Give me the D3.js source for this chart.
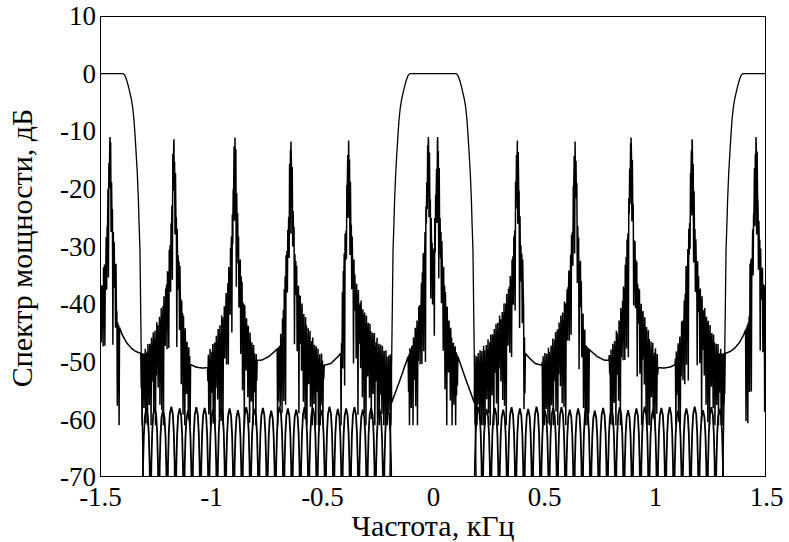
<!DOCTYPE html>
<html><head><meta charset="utf-8">
<script src="https://cdn.jsdelivr.net/npm/d3@7"></script>
<style>
body{margin:0;background:#fff}
svg text{font-family:"Liberation Serif","Times New Roman",serif;fill:#000}
</style>
</head><body>
<svg id="chart" width="789" height="542"></svg>
<script>
// ---------- data ----------
const xTicks = [-1.5, -1, -0.5, 0, 0.5, 1, 1.5];
const yTicks = [10, 0, -10, -20, -30, -40, -50, -60, -70];

// filter response (thin line): one passband shape, repeated at each centre
const passCenters = [-1.5, 0, 1.5];
const passOffset = [-0.30,-0.196,-0.192,-0.189,-0.186,-0.183,-0.180,-0.176,-0.173,-0.168,-0.162,-0.157,-0.153,-0.147,-0.141,-0.135,-0.128,-0.120,-0.112,-0.104,-0.06,0,0.06,0.104,0.112,0.120,0.128,0.135,0.141,0.147,0.153,0.157,0.162,0.168,0.173,0.176,0.180,0.183,0.186,0.189,0.192,0.196,0.30];
const passDb = [-90,-75,-64,-57,-49,-40,-30.6,-26,-22,-17.3,-13.3,-10.2,-8,-5.8,-4.4,-3.4,-2.2,-1.1,-0.3,0,0,0,0,0,-0.3,-1.1,-2.2,-3.4,-4.4,-5.8,-8,-10.2,-13.3,-17.3,-22,-26,-30.6,-40,-49,-57,-64,-75,-90];

// smooth floor of the spectrum between the tone clusters
const floorF = [-1.5,-1.47,-1.455,-1.44,-1.42,-1.40,-1.38,-1.36,-1.34,-1.32,-1.29,-1.25,-1.21,-1.17,-1.13,-1.10,-1.07,-1.04,-1.01,-0.98,-0.95,-0.92,-0.892,-0.86,-0.83,-0.80,-0.77,-0.74,-0.71,-0.68,-0.64,-0.60,-0.56,-0.52,-0.49,-0.46,-0.43,-0.405,-0.38,-0.35,-0.31,-0.27,-0.24,-0.21,-0.194,-0.17,-0.15,-0.13,-0.113,-0.08,-0.05,-0.021,0,
                0.021,0.05,0.08,0.113,0.13,0.15,0.17,0.194,0.21,0.24,0.27,0.31,0.35,0.38,0.405,0.43,0.46,0.49,0.52,0.56,0.60,0.64,0.68,0.71,0.74,0.77,0.80,0.83,0.86,0.892,0.92,0.95,0.98,1.01,1.04,1.07,1.10,1.13,1.17,1.21,1.25,1.29,1.32,1.34,1.36,1.38,1.40,1.42,1.44,1.455,1.47,1.5];
const floorDb = [-38,-35,-33,-38,-43.2,-45.3,-46.7,-47.6,-48.2,-48.5,-48.6,-48.3,-47.2,-45.5,-47.8,-50.3,-50.9,-51.1,-51.0,-50.4,-49.3,-47.8,-46.5,-48.3,-49.4,-49.8,-49.7,-49.1,-48.1,-46.8,-45.5,-47.2,-48.9,-50.0,-50.6,-50.3,-49.2,-48.0,-47.0,-48.8,-51.5,-54,-56,-57.4,-58,-55.4,-53.3,-51.1,-49.2,-46,-43,-40,-39,
                -40,-43,-46,-49.2,-51.1,-53.3,-55.4,-58,-57.4,-56,-54,-51.5,-48.8,-47.0,-48.0,-49.2,-50.3,-50.6,-50.0,-48.9,-47.2,-45.5,-46.8,-48.1,-49.1,-49.7,-49.8,-49.4,-48.3,-46.5,-47.8,-49.3,-50.4,-51.0,-51.1,-50.9,-50.3,-47.8,-45.5,-47.2,-48.3,-48.6,-48.5,-48.2,-47.6,-46.7,-45.3,-43.2,-38,-33,-35,-38];

// tone spikes: position, peak level, extent of the skirt to the left / right (kHz)
const spikeF     = [-1.455,-1.167,-0.892,-0.640,-0.380,-0.021,0.021,0.380,0.640,0.892,1.167,1.455];
const spikePeak  = [-11.0,-11.4,-11.1,-11.8,-11.6,-11.0,-11.0,-11.6,-11.8,-11.1,-11.4,-11.0];
const spikeLeft  = [0.158,0.149,0.122,0.063,0.036,0.090,0.036,0.194,0.149,0.099,0.077,0.045];
const spikeRight = [0.045,0.077,0.099,0.149,0.194,0.036,0.090,0.036,0.063,0.122,0.149,0.158];
// skirt profile of one spike (distance from spike in kHz, level relative to peak in dB)
const skirtD    = [0,0.0023,0.0045,0.0068,0.009,0.0113,0.0135,0.018,0.0225,0.027,0.036,0.045,0.0585,0.072,0.09,0.1126,0.135,0.158];
const skirtDrop = [0,-0.5,-1.8,-5,-9,-12.5,-14.5,-17.5,-20,-22,-25,-27,-29.2,-30.8,-32.8,-34.8,-36.3,-37.3];
// fine ripple inside the skirts (dB below the skirt envelope)
const rippleTop   = [0,1.5,0.5,2.5,0,1,3,0.5,1.5,0,2,1,0,2.5,0.5,1,0.2,1.8];
const rippleDepth = [6,10,4,13,7,16,5,11,4,19,8,6,14,5,22,9,7,12,4,16,8,18,6,25];
const rippleLowest = -61;   // ripple lines in the skirts do not reach below this level

// comb of side lobes at about -58 dB
const combNullsL = [-1.310,-1.2725,-1.235,-1.1975,-1.160,-1.1225,-1.085,-1.0475,-1.010,-0.9725,-0.935,-0.8975,-0.860,-0.8225,-0.785,-0.7475,-0.710,-0.6725,-0.635,-0.5975,-0.560,-0.5225,-0.485,-0.4475,-0.410,-0.3725,-0.335,-0.2975,-0.260,-0.2225,-0.185];
const combNullsR = [0.185,0.2225,0.260,0.2975,0.335,0.3725,0.410,0.4475,0.485,0.5225,0.560,0.5975,0.635,0.6725,0.710,0.7475,0.785,0.8225,0.860,0.8975,0.935,0.9725,1.010,1.0475,1.085,1.1225,1.160,1.1975,1.235,1.2725,1.310];
const combTopL = [-58.2,-57.9,-58.4,-57.8,-58.1,-58.5,-57.9,-58.0,-58.3,-57.8,-58.1,-58.4,-57.9,-58.2,-58.0,-58.5,-57.8,-58.1,-58.3,-57.9,-58.0,-58.4,-57.8,-58.2,-58.1,-57.9,-58.3,-58.0,-58.2,-57.9];
const combTopR = [-57.9,-58.2,-58.0,-58.3,-57.9,-58.1,-58.2,-57.8,-58.4,-58.0,-57.9,-58.3,-58.1,-57.8,-58.5,-58.0,-58.2,-57.9,-58.4,-58.1,-57.8,-58.3,-58.0,-57.9,-58.5,-58.1,-57.8,-58.4,-57.9,-58.2];
const lobeU   = [0,0.04,0.1,0.2,0.32,0.5,0.68,0.8,0.9,0.96,1];
const lobeRel = [-40,-18,-10,-4.5,-1.3,0,-1.3,-4.5,-10,-18,-40];

// ---------- drawing ----------
const L = 100, R = 766, T = 16, B = 477;
const svg = d3.select("#chart");
const x = d3.scaleLinear().domain([-1.5, 1.5]).range([L, R]);
const y = d3.scaleLinear().domain([-70, 10]).range([B, T]);

svg.append("defs").append("clipPath").attr("id", "clip")
  .append("rect").attr("x", L).attr("y", T).attr("width", R - L).attr("height", B - T);
const plot = svg.append("g").attr("clip-path", "url(#clip)");
const line = d3.line().x(d => x(d[0])).y(d => y(d[1]));

// comb
[[combNullsL, combTopL], [combNullsR, combTopR]].forEach(([nulls, tops]) => {
  const pts = [];
  for (let i = 0; i < tops.length; i++) {
    const a = nulls[i], b = nulls[i + 1];
    lobeU.forEach((u, j) => { if (i > 0 && j === 0) return; pts.push([a + (b - a) * u, tops[i] + lobeRel[j]]); });
  }
  plot.append("path").attr("d", line(pts)).attr("fill", "none").attr("stroke", "#000").attr("stroke-width", 1.8);
});

// spectrum with tone spikes
const floorScale = d3.scaleLinear().domain(floorF).range(floorDb);
const dropScale = d3.scaleLinear().domain(skirtD).range(skirtDrop).clamp(true);
const core = skirtD[9], dEnd = skirtD[skirtD.length - 1];
function upperAt(f) {
  let best = null;
  for (let i = 0; i < spikeF.length; i++) {
    const d = f - spikeF[i], ad = Math.abs(d);
    const ext = d < 0 ? spikeLeft[i] : spikeRight[i];
    if (ad > ext) continue;
    const de = ad <= core ? ad : core + (ad - core) * (dEnd - core) / (ext - core);
    const u = spikePeak[i] + dropScale(de);
    if (best === null || u > best) best = u;
  }
  return best;
}
const grid = d3.range(-1.5, 1.5 + 1e-9, 3 / 1500).map(f => ({ f, peak: null }));
spikeF.forEach((f, i) => grid.push({ f, peak: spikePeak[i] }));
grid.sort((a, b) => a.f - b.f);
const specPts = [];
let k = 0;
grid.forEach(g => {
  const fl = floorScale(g.f);
  if (g.peak !== null) { specPts.push([g.f, g.peak]); return; }
  const u = upperAt(g.f);
  if (u === null) { specPts.push([g.f, fl]); return; }
  const v = (k % 2 === 0) ? Math.max(u - rippleTop[(k / 2) % rippleTop.length], fl)
                          : Math.max(u - rippleDepth[((k - 1) / 2) % rippleDepth.length], rippleLowest);
  specPts.push([g.f, v]);
  k++;
});
plot.append("path").attr("d", line(specPts)).attr("fill", "none").attr("stroke", "#000")
  .attr("stroke-width", 1.5).attr("stroke-linejoin", "miter").attr("stroke-miterlimit", 2);

// filter
passCenters.forEach(c => {
  plot.append("path").attr("d", line(passOffset.map((o, i) => [c + o, passDb[i]])))
    .attr("fill", "none").attr("stroke", "#000").attr("stroke-width", 1.3);
});

// frame
svg.append("rect").attr("x", L + 0.5).attr("y", T + 0.5).attr("width", R - L - 1).attr("height", B - T - 1)
  .attr("fill", "none").attr("stroke", "#000").attr("stroke-width", 1);

// axes (labels only)
const fmt = d => String(d);
const ax = svg.append("g").attr("transform", `translate(0,${B})`)
  .call(d3.axisBottom(x).tickValues(xTicks).tickFormat(fmt).tickSize(0).tickPadding(10));
const ay = svg.append("g").attr("transform", `translate(${L},0)`)
  .call(d3.axisLeft(y).tickValues(yTicks).tickFormat(fmt).tickSize(0).tickPadding(4));
[ax, ay].forEach(g => {
  g.select(".domain").remove();
  g.selectAll("text").attr("font-size", 27).attr("font-family", '"Liberation Serif","Times New Roman",serif').attr("fill", "#000");
});

svg.append("text").attr("x", 433).attr("y", 536).attr("text-anchor", "middle")
  .attr("font-size", 30).text("Частота, кГц");
svg.append("text").attr("transform", "translate(32,248) rotate(-90)").attr("text-anchor", "middle")
  .attr("font-size", 30).text("Спектр мощности, дБ");
</script>
</body></html>
